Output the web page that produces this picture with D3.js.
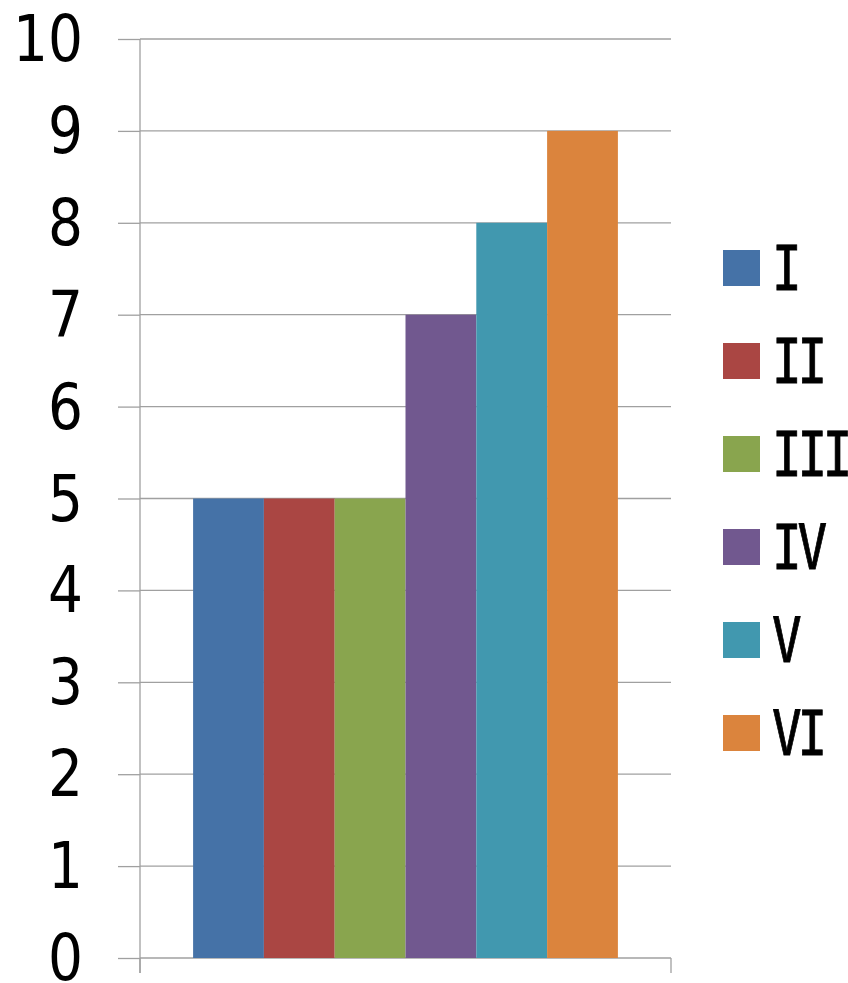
<!DOCTYPE html>
<html>
<head>
<meta charset="utf-8">
<script src="https://cdn.jsdelivr.net/npm/d3@7"></script>
<style>
  body { margin: 0; background: #fff; }
  text { font-family: "DejaVu Sans", Verdana, sans-serif; fill: #000; }
</style>
</head>
<body>
<div id="container"></div>
<script>
const WIDTH = 848,
      HEIGHT = 983;

const margin = { top: 39, bottom: 25, left: 140, right: 177 };

const width = WIDTH - margin.left - margin.right,
      height = HEIGHT - margin.top - margin.bottom;

// data
const seriesNames = ["I", "II", "III", "IV", "V", "VI"];
const seriesValues = [5, 5, 5, 7, 8, 9];
const seriesColors = ["#4572A7", "#AA4643", "#89A54E", "#71588F", "#4198AF", "#DB843D"];
const yTicks = [0, 1, 2, 3, 4, 5, 6, 7, 8, 9, 10];

const FONT = 55, STRETCH = 1.15;

const svg = d3.select('#container').append('svg')
    .attr("width", WIDTH).attr("height", HEIGHT);

const container = svg.append('g')
    .attr("transform", `translate(${margin.left}, ${margin.top})`);

const xScale = d3.scaleBand()
    .domain(seriesNames)
    .range([0, width])
    .paddingInner(0)
    .paddingOuter(0.75);

const yScale = d3.scaleLinear()
    .domain([0, 10])
    .range([height, 0]);

// gridlines
container.append("g")
    .selectAll("line")
    .data(yTicks)
    .join("line")
    .attr("x1", 0).attr("x2", width)
    .attr("y1", d => yScale(d)).attr("y2", d => yScale(d))
    .attr("stroke", "#a0a0a0")
    .attr("stroke-width", 1.3);

// bars
container.selectAll("rect.bar")
    .data(seriesNames)
    .join("rect")
    .attr("class", "bar")
    .attr("x", d => xScale(d))
    .attr("width", xScale.bandwidth())
    .attr("y", (d, i) => yScale(seriesValues[i]))
    .attr("height", (d, i) => height - yScale(seriesValues[i]))
    .attr("fill", (d, i) => seriesColors[i]);

// y axis
const yAxis = d3.axisLeft(yScale)
    .tickValues(yTicks)
    .tickSize(22)
    .tickSizeOuter(0)
    .tickPadding(38);

const yG = container.append("g").call(yAxis);
yG.select(".domain").remove();
yG.selectAll("line").attr("stroke", "#a0a0a0").attr("stroke-width", 1.3);
yG.selectAll("text")
    .attr("x", null)
    .attr("dy", "0.34em")
    .attr("transform", `translate(-57,0) scale(1,${STRETCH})`)
    .style("font-size", FONT + "px")
    .style("font-family", "'DejaVu Sans', Verdana, sans-serif")
    .attr("fill", "#000");

// vertical axis line, extends below zero
container.append("line")
    .attr("x1", 0).attr("x2", 0)
    .attr("y1", yScale(10)).attr("y2", height + 15)
    .attr("stroke", "#a0a0a0").attr("stroke-width", 1.3);

// bottom axis ticks at the category edges
container.append("g")
    .selectAll("line")
    .data(xScale.range())
    .join("line")
    .attr("x1", d => d).attr("x2", d => d)
    .attr("y1", height).attr("y2", height + 15)
    .attr("stroke", "#a0a0a0").attr("stroke-width", 1.3);

// legend
const legendY = d3.scalePoint()
    .domain(seriesNames)
    .range([268, 733]);

const legend = svg.append("g")
    .selectAll("g")
    .data(seriesNames)
    .join("g")
    .attr("transform", d => `translate(723, ${legendY(d)})`);

legend.append("rect")
    .attr("x", 0).attr("y", -18)
    .attr("width", 37).attr("height", 36)
    .attr("fill", (d, i) => seriesColors[i]);

legend.append("text")
    .attr("transform", "translate(49,0) scale(0.85,1.08)")
    .attr("dy", "0.35em")
    .attr("stroke", "#000")
    .attr("stroke-width", 0.8)
    .style("font-family", "'DejaVu Sans Mono', monospace")
    .style("letter-spacing", "-5px")
    .style("font-size", "58px")
    .text(d => d);
</script>
</body>
</html>
